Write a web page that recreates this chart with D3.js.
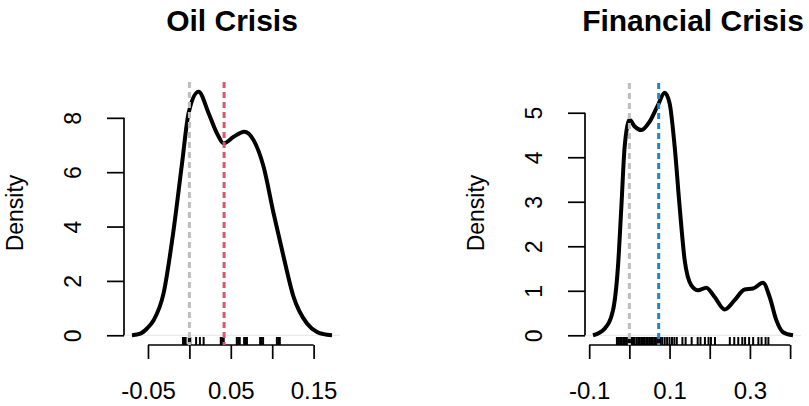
<!DOCTYPE html>
<html>
<head>
<meta charset="utf-8">
<script src="https://cdn.jsdelivr.net/npm/d3@7"></script>
<style>
  body { margin: 0; background: #fff; }
  text { font-family: "Liberation Sans", Arial, Helvetica, sans-serif; fill: #000; }
</style>
</head>
<body>
<div id="chart"></div>
<script>
// density curves
var oilX = [-0.0693, -0.0593, -0.0512, -0.0432, -0.0312, -0.0191, -0.0089, -0.0010, 0.0111, 0.0232, 0.0333, 0.0413, 0.0534, 0.0663, 0.0775, 0.0896, 0.1017, 0.1138, 0.1258, 0.1420, 0.1541, 0.1620, 0.1722];
var oilY = [0, 0.06, 0.25, 0.55, 1.54, 3.87, 6.32, 8.17, 8.96, 8.17, 7.43, 7.06, 7.30, 7.49, 7.18, 6.20, 4.48, 2.88, 1.41, 0.43, 0.12, 0.04, 0];
var oilRug = [-0.0077, -0.0062, -0.0045, -0.0007, 0.0011, 0.0081, 0.0127, 0.0172, 0.0379, 0.0397, 0.0415, 0.0572, 0.0590, 0.0608, 0.0661, 0.0678, 0.0695, 0.0854, 0.0872, 0.0890, 0.1056, 0.1074, 0.1092];
var oilLine = 0.0419;

var finX = [-0.0905, -0.0614, -0.0408, -0.0284, -0.0199, -0.0117, 0.0007, 0.0132, 0.0298, 0.0505, 0.0711, 0.0878, 0.1002, 0.1127, 0.1251, 0.1376, 0.1542, 0.1708, 0.1915, 0.2122, 0.2371, 0.2620, 0.2868, 0.3076, 0.3325, 0.3491, 0.3657, 0.3823, 0.4072];
var finY = [0, 0.15, 0.56, 1.54, 2.89, 4.24, 4.84, 4.69, 4.61, 4.80, 5.17, 5.45, 5.21, 4.24, 2.89, 1.69, 1.12, 1.01, 1.07, 0.86, 0.58, 0.79, 1.03, 1.05, 1.18, 0.86, 0.34, 0.07, 0];
var finRug = [-0.031, -0.027, -0.023, -0.019, -0.015, -0.011, -0.007, -0.003, 0.001, 0.005, 0.009, 0.013, 0.018, 0.022, 0.026, 0.030, 0.034, 0.038, 0.042, 0.046, 0.050, 0.054, 0.058, 0.062, 0.066, 0.070, 0.074, 0.078, 0.082, 0.088, 0.094, 0.100, 0.106, 0.112, 0.118, 0.132, 0.140, 0.155, 0.170, 0.177, 0.188, 0.197, 0.203, 0.213, 0.250, 0.261, 0.271, 0.281, 0.288, 0.298, 0.308, 0.321, 0.329, 0.339, 0.346];
var finLine = 0.0729;

var oilXTicks = [-0.05, 0, 0.05, 0.10, 0.15],
    oilXLabels = ["-0.05", "", "0.05", "", "0.15"],
    oilYTicks = [0, 2, 4, 6, 8];
var finXTicks = [-0.1, 0, 0.1, 0.2, 0.3, 0.4],
    finXLabels = ["-0.1", "", "0.1", "", "0.3", ""],
    finYTicks = [0, 1, 2, 3, 4, 5];

var width = 809, height = 406;

var svg = d3.select("#chart")
  .append("svg")
  .attr("width", width)
  .attr("height", height);

svg.append("rect").attr("width", width).attr("height", height).attr("fill", "#fff");

function panel(opt) {
  // R style: pad the data range by 4% each side
  var xe = d3.extent(opt.xs), ye = [0, d3.max(opt.ys)];
  var px = (xe[1] - xe[0]) * 0.04, py = (ye[1] - ye[0]) * 0.04;

  var x = d3.scaleLinear().domain([xe[0] - px, xe[1] + px]).range([opt.left, opt.left + 216]);
  var y = d3.scaleLinear().domain([ye[0] - py, ye[1] + py]).range([345, opt.top]);

  var g = svg.append("g");
  var pts = opt.xs.map(function(d, i) { return [d, opt.ys[i]]; });

  // zero line
  g.append("line")
    .attr("x1", x.range()[0]).attr("x2", x.range()[1])
    .attr("y1", y(0)).attr("y2", y(0))
    .attr("stroke", "#e4e4e4").attr("stroke-width", 1);

  var line = d3.line()
    .x(function(d) { return x(d[0]); })
    .y(function(d) { return y(d[1]); })
    .curve(d3.curveMonotoneX);

  g.append("path")
    .datum(pts)
    .attr("d", line)
    .attr("fill", "none")
    .attr("stroke", "#000")
    .attr("stroke-width", 4)
    .attr("stroke-linejoin", "round");

  // rug
  g.selectAll(".rug")
    .data(opt.rug)
    .enter().append("line")
    .attr("class", "rug")
    .attr("x1", function(d) { return x(d); })
    .attr("x2", function(d) { return x(d); })
    .attr("y1", 345).attr("y2", 337)
    .attr("stroke", "#000").attr("stroke-width", 2);

  // x axis
  var xa = g.append("g")
    .attr("transform", "translate(0,345)")
    .call(d3.axisBottom(x).tickValues(opt.xTicks).tickSize(14).tickSizeOuter(0)
      .tickFormat(function(d, i) { return opt.xLabels[i]; }));
  xa.select(".domain").remove();
  xa.append("line")
    .attr("x1", x(opt.xTicks[0])).attr("x2", x(opt.xTicks[opt.xTicks.length - 1]))
    .attr("stroke", "#000").attr("stroke-width", 1.7);
  xa.selectAll(".tick line").attr("stroke", "#000").attr("stroke-width", 1.7);
  xa.selectAll(".tick text")
    .attr("y", 0).attr("dy", null)
    .attr("transform", "translate(0,54)")
    .style("font-size", "24px")
    .style("font-family", "'Liberation Sans', Arial, sans-serif");

  // y axis
  var ya = g.append("g")
    .attr("transform", "translate(" + opt.left + ",0)")
    .call(d3.axisLeft(y).tickValues(opt.yTicks).tickSize(17).tickSizeOuter(0).tickFormat(d3.format("d")));
  ya.select(".domain").remove();
  ya.append("line")
    .attr("y1", y(opt.yTicks[0])).attr("y2", y(opt.yTicks[opt.yTicks.length - 1]))
    .attr("stroke", "#000").attr("stroke-width", 1.7);
  ya.selectAll(".tick line").attr("stroke", "#000").attr("stroke-width", 1.7);
  ya.selectAll(".tick text")
    .attr("x", null).attr("dy", null)
    .attr("text-anchor", "middle")
    .attr("transform", "translate(-43,0) rotate(-90)")
    .style("font-size", "23px")
    .style("font-family", "'Liberation Sans', Arial, sans-serif");

  g.append("text")
    .attr("transform", "translate(" + (opt.left - 101) + ",213) rotate(-90)")
    .attr("text-anchor", "middle")
    .style("font-size", "23px")
    .text("Density");

  g.append("text")
    .attr("x", opt.left + 108)
    .attr("y", 31)
    .attr("text-anchor", "middle")
    .style("font-size", "30px")
    .style("font-weight", "bold")
    .text(opt.title);

  // reference lines on top
  [[0, "#bebebe"], [opt.mark, opt.color]].forEach(function(m) {
    g.append("line")
      .attr("x1", x(m[0])).attr("x2", x(m[0]))
      .attr("y1", opt.top).attr("y2", 345)
      .attr("stroke", m[1])
      .attr("stroke-width", 3)
      .attr("stroke-dasharray", "6,4");
  });
}

panel({ title: "Oil Crisis", xs: oilX, ys: oilY, rug: oilRug, mark: oilLine, color: "#df536b",
        xTicks: oilXTicks, xLabels: oilXLabels, yTicks: oilYTicks, left: 124, top: 82 });
panel({ title: "Financial Crisis", xs: finX, ys: finY, rug: finRug, mark: finLine, color: "#1f86c6",
        xTicks: finXTicks, xLabels: finXLabels, yTicks: finYTicks, left: 585, top: 83 });
</script>
</body>
</html>
